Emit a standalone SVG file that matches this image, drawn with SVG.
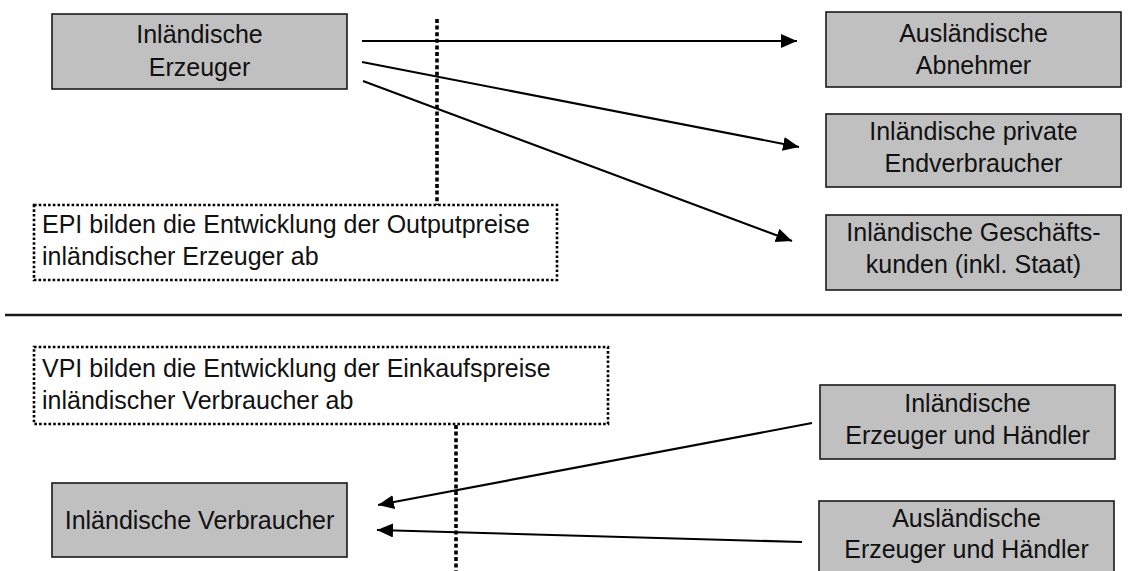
<svg xmlns="http://www.w3.org/2000/svg" width="1132" height="571" viewBox="0 0 1132 571">
<style>
  .box { fill: #c0c0c0; stroke: #1a1a1a; stroke-width: 1.6; }
  .note { fill: none; stroke: #000; stroke-width: 2.6; stroke-dasharray: 2.6 2.1; }
  .vdot { fill: none; stroke: #000; stroke-width: 3.6; stroke-dasharray: 4 2.6; }
  .conn { fill: none; stroke: #000; stroke-width: 2.1; marker-end: url(#arrow); }
  .sep { stroke: #1a1a1a; stroke-width: 2.6; }
  text { font-family: "Liberation Sans", Arial, sans-serif; font-size: 25px; fill: #111; }
  .c { text-anchor: middle; }
</style>
<defs>
  <marker id="arrow" markerUnits="userSpaceOnUse" markerWidth="17" markerHeight="15" refX="16" refY="7" orient="auto">
    <path d="M0,0 L16,7 L0,14 z" fill="#000"/>
  </marker>
</defs>

<g id="separator">
  <line class="sep" x1="5" y1="315" x2="1122" y2="315"/>
</g>

<g id="dotted-lines">
  <line class="vdot" x1="437" y1="19" x2="437" y2="205"/>
  <line class="vdot" x1="456" y1="425" x2="456" y2="571"/>
</g>

<g id="connectors">
  <line class="conn" x1="362" y1="41" x2="797" y2="41"/>
  <line class="conn" x1="362" y1="62" x2="799" y2="147"/>
  <line class="conn" x1="363" y1="81" x2="792" y2="241"/>
  <line class="conn" x1="812" y1="423" x2="378" y2="505"/>
  <line class="conn" x1="802" y1="542" x2="377" y2="530"/>
</g>

<g id="inl-erzeuger">
  <rect class="box" x="52" y="14" width="295" height="75"/>
  <text class="c" x="199.5" y="43">Inländische</text>
  <text class="c" x="199.5" y="76">Erzeuger</text>
</g>

<g id="ausl-abnehmer">
  <rect class="box" x="826" y="12" width="295" height="75"/>
  <text class="c" x="973.5" y="42">Ausländische</text>
  <text class="c" x="973.5" y="74">Abnehmer</text>
</g>

<g id="inl-endverbraucher">
  <rect class="box" x="826" y="114" width="295" height="73"/>
  <text class="c" x="973.5" y="140">Inländische private</text>
  <text class="c" x="973.5" y="172">Endverbraucher</text>
</g>

<g id="inl-geschaeftskunden">
  <rect class="box" x="826" y="215" width="295" height="75"/>
  <text class="c" x="973.5" y="241">Inländische Geschäfts-</text>
  <text class="c" x="973.5" y="273">kunden (inkl. Staat)</text>
</g>

<g id="epi-note">
  <rect class="note" x="34" y="205" width="523" height="75"/>
  <text x="42" y="233">EPI bilden die Entwicklung der Outputpreise</text>
  <text x="42" y="265">inländischer Erzeuger ab</text>
</g>

<g id="vpi-note">
  <rect class="note" x="34" y="347" width="574" height="77"/>
  <text x="42" y="377">VPI bilden die Entwicklung der Einkaufspreise</text>
  <text x="42" y="409">inländischer Verbraucher ab</text>
</g>

<g id="inl-verbraucher">
  <rect class="box" x="52" y="483" width="295" height="74"/>
  <text class="c" x="199.5" y="529">Inländische Verbraucher</text>
</g>

<g id="inl-erzeuger-haendler">
  <rect class="box" x="820" y="385" width="295" height="74"/>
  <text class="c" x="967.5" y="412">Inländische</text>
  <text class="c" x="967.5" y="444">Erzeuger und Händler</text>
</g>

<g id="ausl-erzeuger-haendler">
  <rect class="box" x="819" y="501" width="295" height="76"/>
  <text class="c" x="966.5" y="527">Ausländische</text>
  <text class="c" x="966.5" y="558">Erzeuger und Händler</text>
</g>
</svg>
